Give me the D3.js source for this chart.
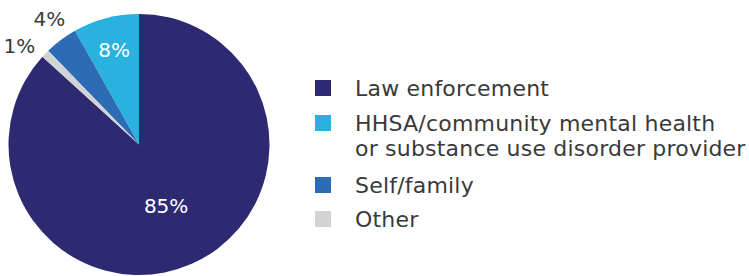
<!DOCTYPE html>
<html>
<head>
<meta charset="utf-8">
<script src="https://cdn.jsdelivr.net/npm/d3@7"></script>
<style>
  html, body { margin: 0; padding: 0; background: #fff; }
  svg { display: block; }
</style>
</head>
<body>
<svg id="chart" width="749" height="276"></svg>
<script>
// Data (legend order)
const categories = ["Law enforcement", "HHSA/community mental health\nor substance use disorder provider", "Self/family", "Other"];
const values = [85, 8, 4, 1];
const valueLabels = ["85%", "8%", "4%", "1%"];
const colors = ["#2d2a72", "#29b1e0", "#2c6cb5", "#d1d3d5"];
// Clockwise drawing order starting at 12 o'clock
const drawOrder = [0, 3, 2, 1];

const svg = d3.select("#chart");
const cx = 139, cy = 144.5, r = 130.5;
const fontFam = "'DejaVu Sans', 'Open Sans', sans-serif";
const textColor = "#3a3a3a";

const data = categories.map((c, i) => ({ name: c, value: values[i], label: valueLabels[i], color: colors[i], idx: i }));

const pie = d3.pie()
  .value(d => d.value)
  .sort((a, b) => drawOrder.indexOf(a.idx) - drawOrder.indexOf(b.idx));

const arcs = pie(data);
const arc = d3.arc().innerRadius(0).outerRadius(r);

const g = svg.append("g").attr("transform", `translate(${cx},${cy})`);

g.selectAll("path.slice")
  .data(arcs)
  .join("path")
  .attr("class", "slice")
  .attr("d", arc)
  .attr("fill", d => d.data.color);

// label placement per slice (radius, colour, angle nudge)
const labelCfg = {
  0: { rad: 67, fill: "#ffffff", nudge: 0 },
  1: { rad: 98, fill: "#ffffff", nudge: 0 },
  2: { rad: 154, fill: textColor, nudge: 0.02 },
  3: { rad: 155, fill: textColor, nudge: -0.08 }
};

g.selectAll("text.val")
  .data(arcs)
  .join("text")
  .attr("class", "val")
  .attr("x", d => {
    const a = (d.startAngle + d.endAngle) / 2 + labelCfg[d.data.idx].nudge;
    return Math.sin(a) * labelCfg[d.data.idx].rad;
  })
  .attr("y", d => {
    const a = (d.startAngle + d.endAngle) / 2 + labelCfg[d.data.idx].nudge;
    return -Math.cos(a) * labelCfg[d.data.idx].rad;
  })
  .attr("dy", "0.36em")
  .attr("text-anchor", "middle")
  .attr("font-family", fontFam)
  .attr("font-size", 20)
  .attr("fill", d => labelCfg[d.data.idx].fill)
  .text(d => d.data.label);

// Legend
const legendY = [88, 123, 185, 219];
const lg = svg.append("g");
const items = lg.selectAll("g.item")
  .data(data)
  .join("g")
  .attr("class", "item")
  .attr("transform", (d, i) => `translate(315,${legendY[i]})`);

items.append("rect")
  .attr("x", 0).attr("y", -8)
  .attr("width", 16).attr("height", 16)
  .attr("fill", d => d.color);

items.append("text")
  .attr("x", 40)
  .attr("font-family", fontFam)
  .attr("font-size", 22)
  .attr("letter-spacing", 0.2)
  .attr("fill", textColor)
  .each(function(d) {
    const lines = d.name.split("\n");
    d3.select(this).selectAll("tspan")
      .data(lines)
      .join("tspan")
      .attr("x", 40)
      .attr("y", (l, j) => j * 25)
      .attr("dy", "0.36em")
      .text(l => l);
  });
</script>
</body>
</html>
